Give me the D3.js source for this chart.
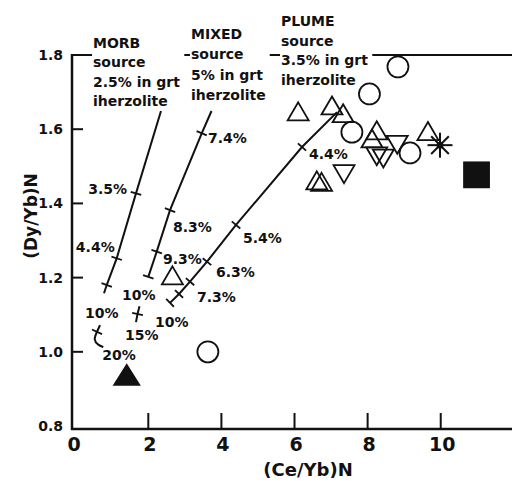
<!DOCTYPE html>
<html><head><meta charset="utf-8">
<script src="https://cdn.jsdelivr.net/npm/d3@7"></script>
<style>
body{margin:0;background:#fff}
svg{display:block}
text{font-family:"DejaVu Sans",sans-serif;font-weight:bold;fill:#111}
</style>
</head><body>
<svg id="c" width="512" height="482"></svg>
<script>
// ---------- data ----------
const xTicks = [0, 2, 4, 6, 8, 10];
const xTickLabels = ["0", "2", "4", "6", "8", "10"];
const yTicks = [0.8, 1.0, 1.2, 1.4, 1.6, 1.8];
const yTickLabels = ["0.8", "1.0", "1.2", "1.4", "1.6", "1.8"];
const xTitle = "(Ce/Yb)N";
const yTitle = "(Dy/Yb)N";

// samples
const circleX = [8.83, 8.05, 7.57, 9.16, 3.63];
const circleY = [1.768, 1.695, 1.592, 1.536, 1.0];
const triUpX = [6.10, 7.025, 7.33, 8.25, 8.12, 9.65, 2.66, 6.61, 6.74];
const triUpY = [1.640, 1.656, 1.635, 1.589, 1.567, 1.587, 1.198, 1.454, 1.450];
const triDownX = [7.355, 8.25, 8.43, 8.81];
const triDownY = [1.487, 1.535, 1.529, 1.566];
const starX = [9.98];
const starY = [1.557];
const squareX = [10.98];
const squareY = [1.477];
const filledTriX = [1.41];
const filledTriY = [0.929];

// melting model curves
const morbX = [2.347, 1.663, 1.135, 0.862, 0.788];
const morbY = [1.649, 1.427, 1.252, 1.180, 1.158];
const morbLabels = ["3.5%", "4.4%", "10%"];
const morbTailX = [0.679, 0.596, 0.495, 0.632, 0.769];
const morbTailY = [1.072, 1.054, 1.032, 1.018, 1.013];
const morbTailLabels = ["20%"];
const mixedX = [3.729, 3.461, 2.594, 2.230, 2.000];
const mixedY = [1.649, 1.589, 1.382, 1.270, 1.202];
const mixedLabels = ["7.4%", "8.3%", "9.3%", "10%"];
const mixedTailX = [1.759, 1.705, 1.663];
const mixedTailY = [1.123, 1.102, 1.080];
const mixedTailLabels = ["15%"];
const plumeX = [7.163, 6.205, 4.399, 3.606, 3.141, 2.840, 2.594];
const plumeY = [1.646, 1.552, 1.342, 1.243, 1.189, 1.156, 1.132];
const plumeLabels = ["4.4%", "5.4%", "6.3%", "7.3%", "10%"];

const sourceLabels = [
  ["MORB", "source", "2.5% in grt", "iherzolite"],
  ["MIXED", "source", "5% in grt", "iherzolite"],
  ["PLUME", "source", "3.5% in grt", "iherzolite"]
];

// ---------- layout ----------
const W = 512, H = 482;
const x = d3.scaleLinear().domain([-0.0875, 11.95]).range([72, 512]);
const y = d3.scaleLinear().domain([0.792, 1.8]).range([429, 55]);
const svg = d3.select("#c");
const ink = "#111";

// curve specs: which point indices get ticks / labels, label offsets in px
const curves = [
  {xs: morbX, ys: morbY, ticks: [1, 2, 3], labelAt: [1, 2, 4], labels: morbLabels,
   off: [[-9, 1, "end"], [-2, -6.6, "end"], [-19, 25, "start"]]},
  {xs: morbTailX, ys: morbTailY, ticks: [1], labelAt: [4], labels: morbTailLabels,
   off: [[-1, 13, "start"]], curve: d3.curveBasis},
  {xs: mixedX, ys: mixedY, ticks: [1, 2, 3, 4], labelAt: [1, 2, 3, 4], labels: mixedLabels,
   off: [[6.3, 9.7, "start"], [3, 22, "start"], [6.3, 12, "start"], [-26.3, 23, "start"]]},
  {xs: mixedTailX, ys: mixedTailY, ticks: [1], labelAt: [1], labels: mixedTailLabels,
   off: [[-12.5, 26, "start"]]},
  {xs: plumeX, ys: plumeY, ticks: [1, 2, 3, 4, 5, 6], labelAt: [1, 2, 3, 4, 6], labels: plumeLabels,
   off: [[7, 12, "start"], [7, 18, "start"], [9, 15, "start"], [7, 20.5, "start"], [-15, 24, "start"]]}
];

// ---------- axes ----------
// top frame
svg.append("line").attr("x1", x.range()[0]).attr("x2", W)
  .attr("y1", y(1.8)).attr("y2", y(1.8)).attr("stroke", ink).attr("stroke-width", 2);

// source label blocks with white backgrounds (they hide the frame line)
const blockPos = [[93, 48, 19.3], [191, 39, 20.3], [281, 26, 19.7]];
sourceLabels.forEach((lines, i) => {
  const g = svg.append("g");
  const bg = g.append("rect").attr("fill", "#fff");
  const t = g.append("text").attr("font-size", 14);
  lines.forEach((s, j) => {
    t.append("tspan").attr("x", blockPos[i][0]).attr("y", blockPos[i][1] + j * blockPos[i][2]).text(s);
  });
  const bb = t.node().getBBox();
  bg.attr("x", bb.x - 1).attr("y", bb.y).attr("width", bb.width + 5).attr("height", bb.height);
});

// y axis
svg.append("line").attr("x1", 72).attr("x2", 72).attr("y1", y(1.8) - 1).attr("y2", 430)
  .attr("stroke", ink).attr("stroke-width", 2.5);
// x axis
svg.append("line").attr("x1", 71).attr("x2", W).attr("y1", 429).attr("y2", 429)
  .attr("stroke", ink).attr("stroke-width", 2.5);

yTicks.forEach((v, i) => {
  if (v > 0.8 && v < 1.8) {
    svg.append("line").attr("x1", 72).attr("x2", 83).attr("y1", y(v)).attr("y2", y(v))
      .attr("stroke", ink).attr("stroke-width", 2);
  }
  svg.append("text").attr("x", 63).attr("y", y(v) + 5).attr("text-anchor", "end")
    .attr("font-size", 14).text(yTickLabels[i]);
});
xTicks.forEach((v, i) => {
  if (v > 0) {
    svg.append("line").attr("x1", x(v)).attr("x2", x(v)).attr("y1", 429).attr("y2", 413)
      .attr("stroke", ink).attr("stroke-width", 2);
  }
  svg.append("text").attr("x", x(v) + (v === 0 ? -1 : 1.5)).attr("y", 451).attr("text-anchor", "middle")
    .attr("font-size", 19).text(xTickLabels[i]);
});
svg.append("text").attr("x", 308).attr("y", 476).attr("text-anchor", "middle")
  .attr("font-size", 18).text(xTitle);
svg.append("text").attr("transform", "translate(37,216) rotate(-90)").attr("text-anchor", "middle")
  .attr("font-size", 17).text(yTitle);

// ---------- model curves ----------
curves.forEach(c => {
  const pts = c.xs.map((v, i) => [x(v), y(c.ys[i])]);
  svg.append("path").attr("d", d3.line().curve(c.curve || d3.curveLinear)(pts))
    .attr("fill", "none").attr("stroke", ink).attr("stroke-width", 2);
  c.ticks.forEach(k => {
    const a = pts[Math.max(0, k - 1)], b = pts[Math.min(pts.length - 1, k + 1)];
    let dx = b[0] - a[0], dy = b[1] - a[1];
    const len = Math.hypot(dx, dy); dx /= len; dy /= len;
    const nx = -dy * 5.5, ny = dx * 5.5;
    svg.append("line").attr("x1", pts[k][0] - nx).attr("y1", pts[k][1] - ny)
      .attr("x2", pts[k][0] + nx).attr("y2", pts[k][1] + ny)
      .attr("stroke", ink).attr("stroke-width", 1.8);
  });
  c.labelAt.forEach((k, j) => {
    svg.append("text").attr("x", pts[k][0] + c.off[j][0]).attr("y", pts[k][1] + c.off[j][1])
      .attr("text-anchor", c.off[j][2]).attr("font-size", 14).text(c.labels[j]);
  });
});

// ---------- samples ----------
const mk = svg.append("g").attr("stroke", ink).attr("stroke-width", 1.8);
circleX.forEach((v, i) => {
  mk.append("circle").attr("cx", x(v)).attr("cy", y(circleY[i])).attr("r", 10.5).attr("fill", "none");
});
triUpX.forEach((v, i) => {
  mk.append("path").attr("transform", `translate(${x(v)},${y(triUpY[i])})`)
    .attr("d", "M0,-12L10.5,6L-10.5,6Z").attr("fill", "none");
});
triDownX.forEach((v, i) => {
  mk.append("path").attr("transform", `translate(${x(v)},${y(triDownY[i])})`)
    .attr("d", "M0,12L10.5,-6L-10.5,-6Z").attr("fill", "none");
});
filledTriX.forEach((v, i) => {
  mk.append("path").attr("transform", `translate(${x(v)},${y(filledTriY[i])})`)
    .attr("d", "M0,-13.3L12.5,6.7L-12.5,6.7Z").attr("fill", ink);
});
squareX.forEach((v, i) => {
  mk.append("rect").attr("x", x(v) - 12.5).attr("y", y(squareY[i]) - 12.5)
    .attr("width", 25).attr("height", 25).attr("fill", ink);
});
starX.forEach((v, i) => {
  const cx = x(v), cy = y(starY[i]), r = 12.5;
  [0, 45, 90, 135].forEach(a => {
    const rad = a * Math.PI / 180;
    mk.append("line").attr("x1", cx - r * Math.cos(rad)).attr("y1", cy - r * Math.sin(rad))
      .attr("x2", cx + r * Math.cos(rad)).attr("y2", cy + r * Math.sin(rad)).attr("stroke-width", 2);
  });
  mk.append("circle").attr("cx", cx).attr("cy", cy).attr("r", 2.5).attr("fill", ink);
});
</script>
</body></html>
